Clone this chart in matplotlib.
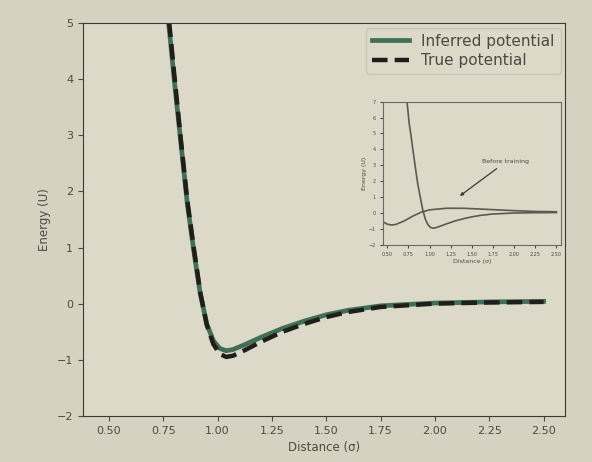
import numpy as np
import matplotlib as mpl
import matplotlib.pyplot as plt

mpl.rcParams['font.family'] = ['DejaVu Sans']
mpl.rcParams['text.color'] = '#4a4a44'
mpl.rcParams['axes.labelcolor'] = '#4a4a44'
mpl.rcParams['xtick.color'] = '#4a4a44'
mpl.rcParams['ytick.color'] = '#4a4a44'

# distance (sigma) and energy (U)
dist = [0.70, 0.73, 0.76, 0.78, 0.80, 0.83, 0.86, 0.89, 0.92, 0.95, 0.98, 1.01,
        1.04, 1.07, 1.12, 1.20, 1.30, 1.40, 1.50, 1.60, 1.75, 2.00, 2.25, 2.50]
true_pot = [9.5, 7.2, 5.6, 4.9, 4.1, 2.95, 1.85, 1.0, 0.2, -0.38, -0.72, -0.9,
            -0.95, -0.93, -0.84, -0.68, -0.5, -0.36, -0.24, -0.15, -0.06, 0.0, 0.02, 0.03]
inferred_pot = [9.3, 7.0, 5.5, 4.8, 4.0, 2.9, 1.8, 0.95, 0.18, -0.36, -0.66, -0.8,
                -0.84, -0.82, -0.74, -0.6, -0.44, -0.31, -0.2, -0.12, -0.04, 0.01, 0.03, 0.04]

# initial guess shown in the inset
before_x = [0.45, 0.50, 0.55, 0.60, 0.70, 0.80, 0.90, 1.00, 1.20, 1.40, 1.60, 1.80, 2.00, 2.25, 2.50]
before_pot = [-0.55, -0.7, -0.75, -0.72, -0.5, -0.2, 0.05, 0.2, 0.3, 0.3, 0.25, 0.2, 0.15, 0.1, 0.08]

xticks = [0.50, 0.75, 1.00, 1.25, 1.50, 1.75, 2.00, 2.25, 2.50]

fig = plt.figure(figsize=(5.92, 4.62), dpi=100, facecolor='#d6d2c1')
ax = fig.add_axes([0.14, 0.1, 0.815, 0.85])
ax.set_facecolor('#dcd9c9')

ax.plot(dist, inferred_pot, color='#3f6f55', lw=3.4, label='Inferred potential')
ax.plot(dist, true_pot, color='#1e1e1a', lw=3.2, ls=(0, (3.5, 1.6)), label='True potential')
ax.set_xlim(0.38, 2.6)
ax.set_ylim(-2, 5)
ax.set_xticks(xticks)
ax.set_xticklabels(['%.2f' % t for t in xticks])
ax.set_xlabel('Distance (σ)', fontsize=8.5)
ax.set_ylabel('Energy (U)', fontsize=8.5)
ax.tick_params(labelsize=8)
for s in ax.spines.values():
    s.set_color('#3a3a35')
leg = ax.legend(loc='upper right', fontsize=11, facecolor='#dcd9c9', edgecolor='#c4c1b2',
                handlelength=2.4, labelspacing=0.3, borderaxespad=0.3)

# inset
axi = fig.add_axes([0.647, 0.47, 0.30, 0.31])
axi.set_facecolor('#dcd9c9')
axi.plot(dist, true_pot, color='#5a5a52', lw=1.2)
axi.plot(before_x, before_pot, color='#5a5a52', lw=1.2)
axi.set_xlim(0.45, 2.55)
axi.set_ylim(-2, 7)
axi.set_xticks(xticks)
axi.set_xticklabels(['%.2f' % t for t in xticks])
axi.tick_params(labelsize=3.5, length=2)
axi.set_xlabel('Distance (σ)', fontsize=4.5, labelpad=1)
axi.set_ylabel('Energy (U)', fontsize=4.5, labelpad=1)
for s in axi.spines.values():
    s.set_color('#6a6a60')
axi.annotate('Before training', xy=(0.42, 0.33), xytext=(0.56, 0.57),
             xycoords='axes fraction', textcoords='axes fraction',
             fontsize=4.5, arrowprops=dict(arrowstyle='-|>', color='#3a3a35', lw=0.9))

fig.savefig('out.png', dpi=100, facecolor=fig.get_facecolor())
